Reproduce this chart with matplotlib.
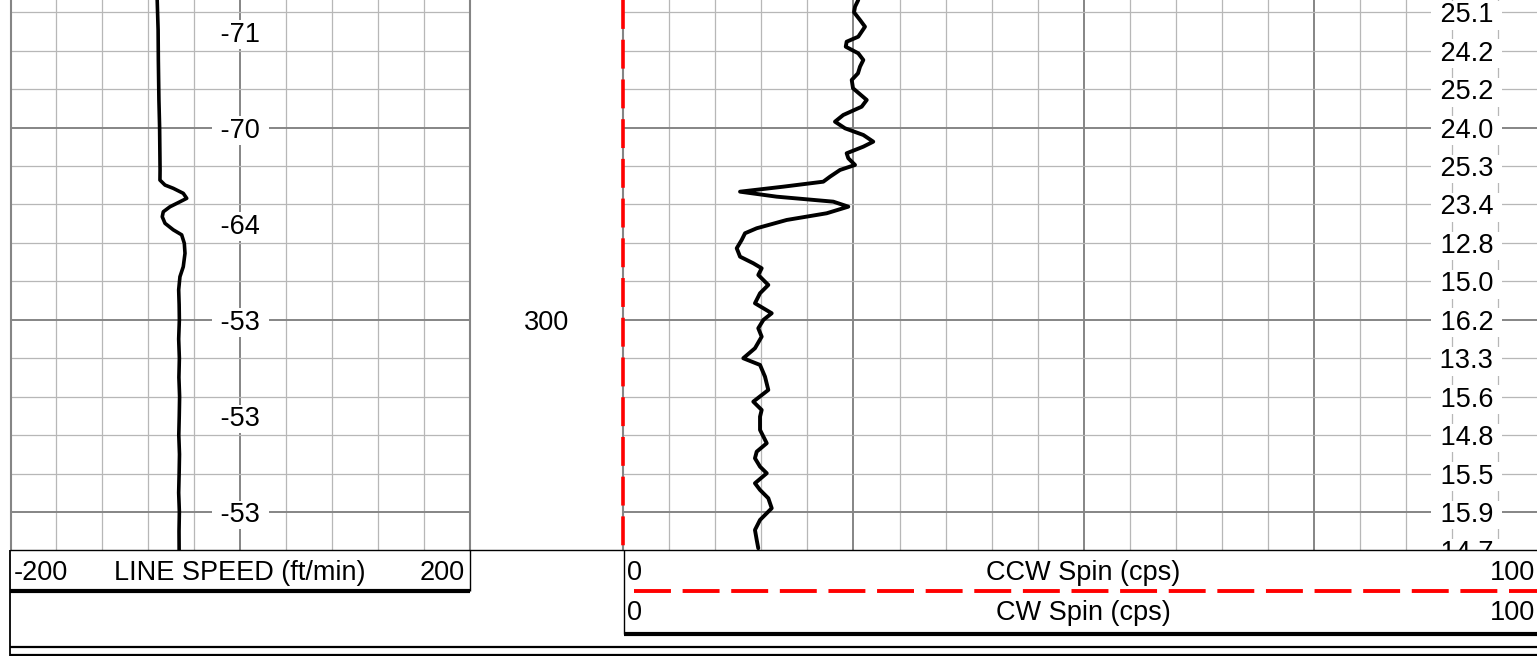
import matplotlib
matplotlib.use("Agg")
import matplotlib.pyplot as plt
from matplotlib.lines import Line2D
from matplotlib.ticker import MultipleLocator

plt.rcParams['font.family'] = ['Liberation Sans', 'DejaVu Sans']

# ---------------- data ----------------
# LINE SPEED track (ft/min) versus depth
ls_depth = [216.8, 224.6, 232.4, 242.8, 250.0, 261.0, 263.65, 264.95, 265.8, 267.1,
            268.4, 269.3, 270.6, 271.9, 273.2, 274.9, 276.6, 277.9, 280.1, 282.7,
            286.2, 288.8, 292.2, 296.0, 300.0, 305.0, 310.0, 315.0, 320.0, 325.0,
            330.0, 335.0, 340.0, 345.0, 350.0, 355.0, 359.9]
ls_speed = [-72.3, -71.5, -71.3, -70.8, -70.2, -69.8, -69.9, -65.5, -58.3, -49.6,
            -46.6, -52.5, -61.2, -67.0, -67.9, -65.5, -58.3, -51.0, -48.7, -48.1,
            -49.6, -52.5, -53.6, -53.2, -53.0, -53.6, -53.0, -53.4, -52.8, -53.1,
            -53.5, -52.9, -53.2, -53.6, -53.0, -53.3, -53.2]

# CW spin (black solid) versus depth
spin_depth = [216.80, 218.54, 220.00, 222.00, 223.75, 226.35, 227.65, 228.95, 230.67, 232.41,
              234.15, 235.87, 237.61, 239.77, 242.81, 244.56, 246.72, 248.46, 250.18, 251.92,
              253.66, 254.96, 256.68, 257.98, 259.72, 261.02, 262.77, 264.07, 265.37, 266.67,
              267.97, 269.27, 270.57, 272.29, 274.03, 276.19, 277.49, 279.23, 281.39, 283.58,
              285.30, 286.60, 288.34, 290.94, 293.10, 295.70, 298.30, 300.05, 302.21, 304.39,
              307.41, 310.01, 311.75, 314.80, 318.26, 321.30, 323.46, 325.20, 328.66, 332.12,
              334.31, 336.03, 338.21, 339.93, 342.53, 344.27, 346.43, 349.03, 352.08, 354.68,
              357.28, 359.44]
cw_spin = [25.52, 25.17, 25.06, 25.71, 26.25, 25.52, 24.26, 24.16, 25.52, 26.07,
           25.71, 25.49, 24.81, 24.95, 26.44, 25.89, 23.89, 22.99, 24.08, 26.07,
           27.15, 26.07, 24.26, 24.44, 25.17, 23.54, 22.45, 21.72, 17.38, 12.68,
           16.66, 22.81, 24.44, 22.09, 17.75, 14.49, 13.22, 12.86, 12.32, 12.68,
           14.12, 15.03, 14.66, 15.75, 14.85, 14.30, 16.12, 15.21, 14.66, 15.03,
           14.30, 13.03, 14.85, 15.39, 15.75, 14.12, 15.03, 14.85, 14.85, 15.58,
           14.49, 14.30, 14.85, 15.58, 14.30, 14.85, 15.75, 16.12, 14.85, 14.30,
           14.49, 14.66]

# CCW spin (red dashed) versus depth
ccw_depth = [216.8, 359.9]
ccw_spin = [0.0, 0.0]

# readouts printed inside the tracks
ls_mark_depth = [225, 250, 275, 300, 325, 350]
ls_mark_value = [-71, -70, -64, -53, -53, -53]
spin_mark_depth = [220, 230, 240, 250, 260, 270, 280, 290, 300, 310, 320, 330, 340, 350, 360]
spin_mark_value = [25.1, 24.2, 25.2, 24.0, 25.3, 23.4, 12.8, 15.0, 16.2, 13.3, 15.6, 14.8, 15.5, 15.9, 14.7]
depth_labels = [300]

# header
ls_title, ls_min, ls_max = "LINE SPEED (ft/min)", -200, 200
ccw_title, cw_title = "CCW Spin (cps)", "CW Spin (cps)"
spin_min, spin_max = 0, 100

# ---------------- layout ----------------
W, H = 1537, 656
fig = plt.figure(figsize=(W / 100, H / 100), dpi=100)
fig.patch.set_facecolor('white')

def fx(x):
    return x / W

def fy(y):
    return 1 - y / H

TOP_D, BOT_D = 216.8, 359.9
TRACK_BOTTOM = 550
FS = 19.5
LIGHT = '#b7b7b7'
DARK = '#858585'

ax_ls = fig.add_axes([fx(10.5), fy(TRACK_BOTTOM), fx(470 - 10.5), TRACK_BOTTOM / H])
ax_dp = fig.add_axes([fx(470), fy(TRACK_BOTTOM), fx(623.3 - 470), TRACK_BOTTOM / H])
ax_sp = fig.add_axes([fx(623.3), fy(TRACK_BOTTOM), fx(1544 - 623.3), TRACK_BOTTOM / H])

for ax in (ax_ls, ax_dp, ax_sp):
    ax.set_ylim(BOT_D, TOP_D)
    ax.set_facecolor('none')

def style_grid(ax, xmaj, xmin):
    ax.xaxis.set_major_locator(MultipleLocator(xmaj))
    ax.xaxis.set_minor_locator(MultipleLocator(xmin))
    ax.yaxis.set_major_locator(MultipleLocator(50))
    ax.yaxis.set_minor_locator(MultipleLocator(10))
    ax.grid(which='minor', color=LIGHT, lw=0.9)
    ax.grid(which='major', color=DARK, lw=1.4)
    ax.tick_params(which='both', length=0, labelleft=False, labelbottom=False)
    ax.set_axisbelow(True)
    ax.spines['top'].set_visible(False)
    ax.spines['bottom'].set_visible(False)
    for s in ('left', 'right'):
        ax.spines[s].set_color(DARK)
        ax.spines[s].set_linewidth(1.5)

ax_ls.set_xlim(ls_min, ls_max)
style_grid(ax_ls, 200, 40)
ax_sp.set_xlim(spin_min, spin_max)
style_grid(ax_sp, 25, 5)
ax_sp.spines['right'].set_visible(False)

ax_dp.set_xlim(0, 1)
ax_dp.axis('off')

# curves
ax_ls.plot(ls_speed, ls_depth, color='black', lw=2.6, solid_joinstyle='round',
           solid_capstyle='round', zorder=4)
ax_sp.plot(cw_spin, spin_depth, color='black', lw=2.8, solid_joinstyle='round',
           solid_capstyle='round', zorder=4)
ax_sp.plot(ccw_spin, ccw_depth, color='#ff0000', lw=2.6, linestyle=(0, (8, 3)),
           clip_on=False, zorder=5)

# readouts
box = dict(facecolor='white', edgecolor='none', boxstyle='square,pad=0.05')
for d, v in zip(ls_mark_depth, ls_mark_value):
    ax_ls.text(0, d, f" {v:d} ", ha='center', va='center_baseline', fontsize=FS,
               bbox=box, zorder=3, clip_on=True)
for d, v in zip(spin_mark_depth, spin_mark_value):
    ax_sp.text(91.6, d, f" {v:.1f} ", ha='center', va='center_baseline', fontsize=FS,
               bbox=box, zorder=3, clip_on=True)
for d in depth_labels:
    ax_dp.text(0.5, d, f"{d}", ha='center', va='center_baseline', fontsize=FS)

# header frame lines (figure pixel coordinates)
def hline(y, x0, x1, lw, color='black', ls='-'):
    fig.add_artist(Line2D([fx(x0), fx(x1)], [fy(y), fy(y)], color=color, lw=lw,
                          linestyle=ls, transform=fig.transFigure, solid_capstyle='butt'))

def vline(x, y0, y1, lw, color='black'):
    fig.add_artist(Line2D([fx(x), fx(x)], [fy(y0), fy(y1)], color=color, lw=lw,
                          transform=fig.transFigure, solid_capstyle='butt'))

hline(550, 10, 1537, 1.0)
vline(10, 550, 656, 1.3)
vline(470, 550, 591, 1.0)
hline(591, 10, 470, 3.0)
vline(624, 550, 634, 1.0)
hline(591, 634, 1540, 2.8, color='#ff0000', ls=(0, (9.5, 3)))
hline(634, 624, 1537, 3.0)
hline(647, 10, 1537, 1.6)
hline(654.5, 10, 1537, 1.6)

# header text
def htext(x, y, s, ha):
    fig.text(fx(x), fy(y), s, ha=ha, va='baseline', fontsize=FS)

htext(14, 579.5, f"{ls_min}", 'left')
htext(240, 579.5, ls_title, 'center')
htext(465, 579.5, f"{ls_max}", 'right')
htext(627, 579.5, f"{spin_min}", 'left')
htext(1083.5, 579.5, ccw_title, 'center')
htext(1535, 579.5, f"{spin_max}", 'right')
htext(627, 620.5, f"{spin_min}", 'left')
htext(1083.5, 620.5, cw_title, 'center')
htext(1535, 620.5, f"{spin_max}", 'right')

fig.savefig('out.png', dpi=100, facecolor='white')
